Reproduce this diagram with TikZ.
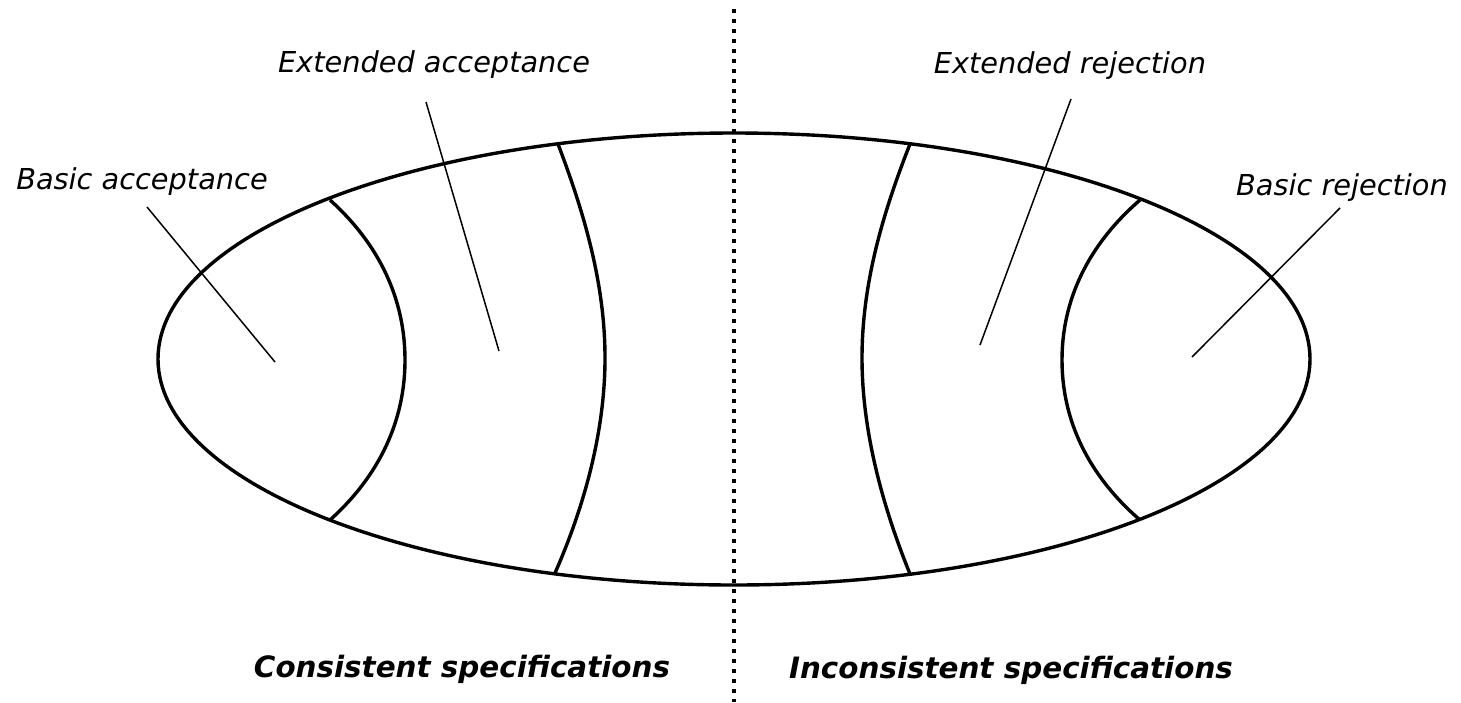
\documentclass[tikz,border=0pt]{standalone}
\usepackage{fontspec}
\setmainfont{DejaVu Sans}
\begin{document}
\begin{tikzpicture}[x=0.5pt,y=-0.5pt,
  region/.style={line width=1.7pt, black},
  leader/.style={line width=0.75pt, black},
  lbl/.style={anchor=base, inner sep=0pt, font=\fontsize{14.4pt}{16pt}\selectfont\itshape},
  sidelbl/.style={anchor=base, inner sep=0pt, font=\fontsize{14.7pt}{17pt}\selectfont\bfseries\itshape},
  divider/.style={line width=2pt, dash pattern=on 2pt off 3pt}]
\useasboundingbox (0,0) rectangle (1461,702);
% outer ellipse
\draw[region] (734,359) ellipse [x radius=576, y radius=226];
% inner boundaries
\draw[region] (330,200) .. controls (380,245) and (405,300) .. (405,360)
                        .. controls (405,420) and (380,475) .. (330,520);
\draw[region] (558,144) .. controls (585,215) and (605,285) .. (605,358)
                        .. controls (605,430) and (585,505) .. (555,573);
\draw[region] (910,144) .. controls (882,215) and (862,285) .. (862,358)
                        .. controls (862,430) and (882,505) .. (910,574);
\draw[region] (1140,200) .. controls (1088,245) and (1062,300) .. (1062,360)
                         .. controls (1062,420) and (1088,475) .. (1140,520);
% divider
\coordinate (dtop) at (734,9);
\coordinate (dbot) at (734,702);
\draw[divider] (dtop) -- (dbot);
% labels
\node[lbl] (ba) at (142,189) {Basic acceptance};
\node[lbl] (ea) at (434,72) {Extended acceptance};
\node[lbl] (er) at (1070,73) {Extended rejection};
\node[lbl] (br) at (1342,195) {Basic rejection};
\node[sidelbl] (cs) at (462,677) {Consistent specifications};
\node[sidelbl] (is) at (1011,678) {Inconsistent specifications};
% leader lines
\coordinate (ba1) at (147,207); \coordinate (ba2) at (275,362);
\coordinate (ea1) at (426,102); \coordinate (ea2) at (499,351);
\coordinate (er1) at (1071,99); \coordinate (er2) at (980,345);
\coordinate (br1) at (1340,208); \coordinate (br2) at (1192,357);
\draw[leader] (ba1) -- (ba2);
\draw[leader] (ea1) -- (ea2);
\draw[leader] (er1) -- (er2);
\draw[leader] (br1) -- (br2);
\end{tikzpicture}
\end{document}
